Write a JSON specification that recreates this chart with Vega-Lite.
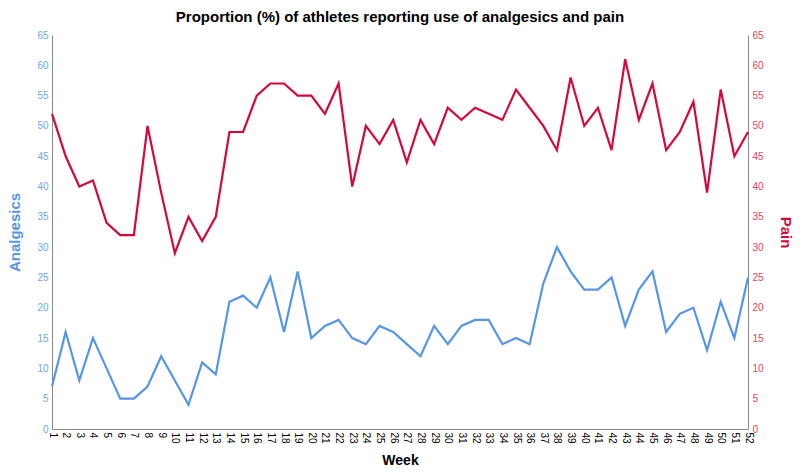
{
  "$schema": "https://vega.github.io/schema/vega-lite/v6.json",
  "width": 696,
  "height": 394,
  "autosize": {"type": "none"},
  "padding": {"left": 52, "top": 35, "right": 53, "bottom": 43},
  "config": {
    "font": "Liberation Sans",
    "view": {"stroke": null},
    "axis": {"grid": false, "ticks": false, "domainColor": "#888888", "labelFont": "Liberation Sans", "titleFont": "Liberation Sans"}
  },
  "title": {"text": "Proportion (%) of athletes reporting use of analgesics and pain", "fontSize": 15, "fontWeight": "bold", "color": "#000000", "anchor": "middle", "offset": 5},
  "data": {"values": [
    {"week": 1, "analgesics": 7, "pain": 52},
    {"week": 2, "analgesics": 16, "pain": 45},
    {"week": 3, "analgesics": 8, "pain": 40},
    {"week": 4, "analgesics": 15, "pain": 41},
    {"week": 5, "analgesics": 10, "pain": 34},
    {"week": 6, "analgesics": 5, "pain": 32},
    {"week": 7, "analgesics": 5, "pain": 32},
    {"week": 8, "analgesics": 7, "pain": 50},
    {"week": 9, "analgesics": 12, "pain": 39},
    {"week": 10, "analgesics": 8, "pain": 29},
    {"week": 11, "analgesics": 4, "pain": 35},
    {"week": 12, "analgesics": 11, "pain": 31},
    {"week": 13, "analgesics": 9, "pain": 35},
    {"week": 14, "analgesics": 21, "pain": 49},
    {"week": 15, "analgesics": 22, "pain": 49},
    {"week": 16, "analgesics": 20, "pain": 55},
    {"week": 17, "analgesics": 25, "pain": 57},
    {"week": 18, "analgesics": 16, "pain": 57},
    {"week": 19, "analgesics": 26, "pain": 55},
    {"week": 20, "analgesics": 15, "pain": 55},
    {"week": 21, "analgesics": 17, "pain": 52},
    {"week": 22, "analgesics": 18, "pain": 57},
    {"week": 23, "analgesics": 15, "pain": 40},
    {"week": 24, "analgesics": 14, "pain": 50},
    {"week": 25, "analgesics": 17, "pain": 47},
    {"week": 26, "analgesics": 16, "pain": 51},
    {"week": 27, "analgesics": 14, "pain": 44},
    {"week": 28, "analgesics": 12, "pain": 51},
    {"week": 29, "analgesics": 17, "pain": 47},
    {"week": 30, "analgesics": 14, "pain": 53},
    {"week": 31, "analgesics": 17, "pain": 51},
    {"week": 32, "analgesics": 18, "pain": 53},
    {"week": 33, "analgesics": 18, "pain": 52},
    {"week": 34, "analgesics": 14, "pain": 51},
    {"week": 35, "analgesics": 15, "pain": 56},
    {"week": 36, "analgesics": 14, "pain": 53},
    {"week": 37, "analgesics": 24, "pain": 50},
    {"week": 38, "analgesics": 30, "pain": 46},
    {"week": 39, "analgesics": 26, "pain": 58},
    {"week": 40, "analgesics": 23, "pain": 50},
    {"week": 41, "analgesics": 23, "pain": 53},
    {"week": 42, "analgesics": 25, "pain": 46},
    {"week": 43, "analgesics": 17, "pain": 61},
    {"week": 44, "analgesics": 23, "pain": 51},
    {"week": 45, "analgesics": 26, "pain": 57},
    {"week": 46, "analgesics": 16, "pain": 46},
    {"week": 47, "analgesics": 19, "pain": 49},
    {"week": 48, "analgesics": 20, "pain": 54},
    {"week": 49, "analgesics": 13, "pain": 39},
    {"week": 50, "analgesics": 21, "pain": 56},
    {"week": 51, "analgesics": 15, "pain": 45},
    {"week": 52, "analgesics": 25, "pain": 49}
  ]},
  "encoding": {
    "x": {"field": "week", "type": "quantitative", "scale": {"domain": [1, 52], "nice": false, "zero": false},
      "axis": {"title": "Week", "titleFontSize": 14, "titleFontWeight": "bold", "titleColor": "#000000", "titlePadding": 10,
        "values": [1,2,3,4,5,6,7,8,9,10,11,12,13,14,15,16,17,18,19,20,21,22,23,24,25,26,27,28,29,30,31,32,33,34,35,36,37,38,39,40,41,42,43,44,45,46,47,48,49,50,51,52],
        "labelAngle": 90, "labelAlign": "left", "labelBaseline": "middle", "labelFontSize": 10, "labelColor": "#000000", "labelPadding": 3, "labelOverlap": false, "labelFlush": false}}
  },
  "layer": [
    {
      "mark": {"type": "line", "color": "#5596E6", "strokeWidth": 2.2},
      "encoding": {
        "y": {"field": "analgesics", "type": "quantitative", "scale": {"domain": [0, 65], "nice": false},
          "axis": {"orient": "left", "title": "Analgesics", "titleColor": "#5596E6", "titleFontSize": 15, "titleFontWeight": "bold", "titlePadding": 14,
            "values": [0,5,10,15,20,25,30,35,40,45,50,55,60,65], "labelColor": "#6FA6E8", "labelFontSize": 10, "labelPadding": 4}}
      }
    },
    {
      "mark": {"type": "line", "color": "#D6083B", "strokeWidth": 2.2},
      "encoding": {
        "y": {"field": "pain", "type": "quantitative", "scale": {"domain": [0, 65], "nice": false},
          "axis": {"orient": "right", "title": "Pain", "titleColor": "#D6083B", "titleFontSize": 15, "titleFontWeight": "bold", "titlePadding": 14, "titleAngle": 90,
            "values": [0,5,10,15,20,25,30,35,40,45,50,55,60,65], "labelColor": "#E04468", "labelFontSize": 10, "labelPadding": 4}}
      }
    }
  ],
  "resolve": {"scale": {"y": "independent"}}
}
